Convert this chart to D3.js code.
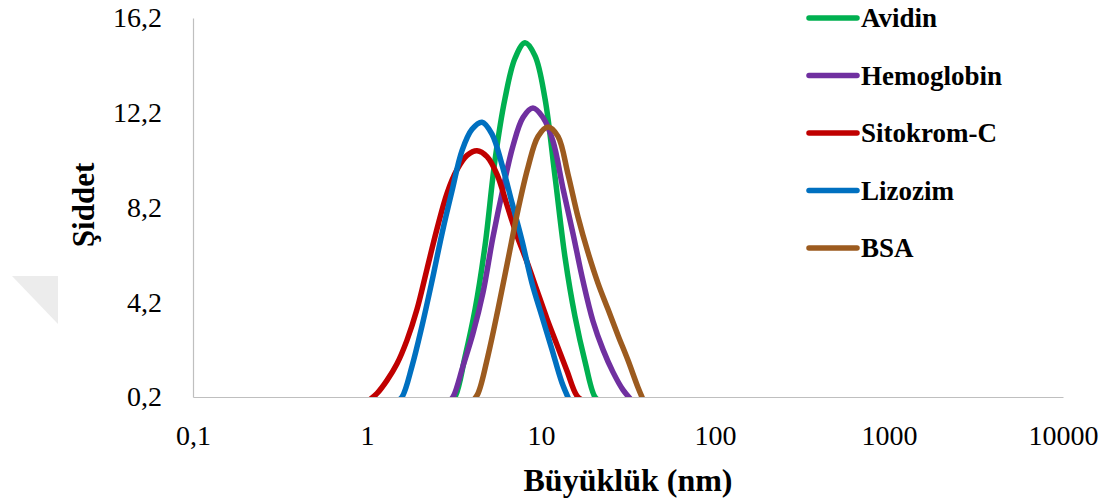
<!DOCTYPE html>
<html>
<head>
<meta charset="utf-8">
<script src="https://cdn.jsdelivr.net/npm/d3@7"></script>
<style>
  html, body { margin: 0; padding: 0; background: #ffffff; }
  svg { display: block; }
  text { font-family: "Liberation Serif", "Times New Roman", serif; fill: #000; }
</style>
</head>
<body>
<svg id="chart" width="1115" height="503"></svg>
<script>
// ---- data ----
const seriesNames = ["Avidin", "Hemoglobin", "Sitokrom-C", "Lizozim", "BSA"];
const seriesColors = ["#00b050", "#7030a0", "#c00000", "#0070c0", "#9c5b1f"];

const avidinSize = [2.96, 3.20, 3.66, 4.18, 4.77, 5.44, 6.21, 7.09, 8.09, 9.24, 10.54, 12.04, 13.74, 15.68, 17.90, 20.43, 22.13];
const avidinInt  = [0, 0.2, 1.9, 3.9, 6.6, 10.2, 12.8, 14.5, 15.15, 14.6, 12.8, 9.5, 6.1, 3.6, 1.7, 0.2, 0];

const hemoSize = [2.92, 3.12, 3.56, 4.07, 4.64, 5.28, 6.05, 6.90, 7.88, 8.99, 10.27, 11.72, 13.38, 15.27, 17.43, 19.90, 22.72, 25.93, 29.60, 33.79];
const hemoInt  = [0, 0.2, 1.5, 2.9, 4.6, 6.9, 9.0, 10.8, 12.0, 12.4, 12.0, 11.0, 9.0, 7.1, 5.1, 3.4, 2.2, 1.25, 0.5, 0];

const sitoSize = [1.000, 1.142, 1.303, 1.487, 1.698, 1.938, 2.212, 2.526, 2.883, 3.291, 3.757, 4.288, 4.895, 5.587, 6.378, 7.280, 8.311, 9.485, 10.83, 12.36, 14.11, 16.10, 17.90];
const sitoInt  = [0, 0.35, 0.9, 1.6, 2.6, 3.9, 5.6, 7.3, 8.8, 9.8, 10.4, 10.6, 10.35, 9.6, 8.3, 7.0, 5.9, 4.7, 3.5, 2.4, 1.3, 0.25, 0];

const lizoSize = [1.468, 1.589, 1.814, 2.071, 2.364, 2.698, 3.080, 3.516, 4.012, 4.580, 5.229, 5.969, 6.813, 7.778, 8.878, 10.13, 11.57, 13.20, 14.68];
const lizoInt  = [0, 0.2, 1.5, 3.2, 5.1, 7.1, 8.9, 10.6, 11.5, 11.8, 11.3, 10.0, 8.4, 6.8, 5.0, 3.6, 2.2, 0.8, 0];

const bsaSize = [4.012, 4.345, 4.960, 5.660, 6.462, 7.376, 8.421, 9.612, 10.97, 12.52, 14.30, 16.32, 18.63, 21.27, 24.28, 27.71, 31.62, 36.10, 39.08];
const bsaInt  = [0, 0.35, 1.95, 3.9, 6.0, 8.1, 9.9, 11.2, 11.6, 11.2, 9.6, 7.8, 6.3, 5.0, 3.9, 2.8, 1.75, 0.6, 0];

const xTickValues = [0.1, 1, 10, 100, 1000, 10000];
const xTickLabels = ["0,1", "1", "10", "100", "1000", "10000"];
const yTickValues = [0.2, 4.2, 8.2, 12.2, 16.2];
const yTickLabels = ["0,2", "4,2", "8,2", "12,2", "16,2"];
const xTitle = "Büyüklük (nm)";
const yTitle = "Şiddet";

// ---- build ----
const sizes = [avidinSize, hemoSize, sitoSize, lizoSize, bsaSize];
const ints  = [avidinInt, hemoInt, sitoInt, lizoInt, bsaInt];
const series = seriesNames.map((name, i) => ({
  name, color: seriesColors[i],
  pts: sizes[i].map((s, j) => ({ x: s, y: ints[i][j] }))
}));

const svg = d3.select("#chart");
const pL = 193, pR = 1063, pT = 18, pB = 397;

const x = d3.scaleLog().domain([0.1, 10000]).range([pL, pR]);
const y = d3.scaleLinear().domain([0.2, 16.2]).range([pB, pT]);

// faint watermark triangle from the reference page
svg.append("path")
  .attr("d", "M12,276 L58,276 L58,324 Z")
  .attr("fill", "#ececec");

// axes
const xAxis = d3.axisBottom(x).tickValues(xTickValues)
  .tickFormat((d, i) => xTickLabels[i]).tickSize(0).tickPadding(28);
const gx = svg.append("g").attr("transform", `translate(0,${pB})`).call(xAxis);
gx.select(".domain").attr("stroke", "#bfbfbf").attr("stroke-width", 1.2);
gx.selectAll("text").style("font-size", "28px").style("font-family", '"Liberation Serif", serif');

const yAxis = d3.axisLeft(y).tickValues(yTickValues)
  .tickFormat((d, i) => yTickLabels[i]).tickSize(0).tickPadding(31);
const gy = svg.append("g").attr("transform", `translate(${pL},0)`).call(yAxis);
gy.select(".domain").attr("stroke", "#bfbfbf").attr("stroke-width", 1.2);
gy.selectAll("text").style("font-size", "28px").style("font-family", '"Liberation Serif", serif');

// clip to plot area
svg.append("defs").append("clipPath").attr("id", "plotclip")
  .append("rect").attr("x", pL).attr("y", pT - 10)
  .attr("width", pR - pL).attr("height", pB - pT + 10);

const line = d3.line()
  .x(d => x(d.x)).y(d => y(d.y))
  .curve(d3.curveCatmullRom.alpha(0.5));

svg.append("g").attr("clip-path", "url(#plotclip)")
  .selectAll("path").data(series).join("path")
  .attr("d", d => line(d.pts))
  .attr("fill", "none")
  .attr("stroke", d => d.color)
  .attr("stroke-width", 5.5)
  .attr("stroke-linejoin", "round")
  .attr("stroke-linecap", "round");

// titles
svg.append("text")
  .attr("x", 628).attr("y", 491)
  .attr("text-anchor", "middle")
  .style("font-size", "32px").style("font-weight", "bold")
  .text(xTitle);

svg.append("text")
  .attr("transform", "translate(94,205) rotate(-90)")
  .attr("text-anchor", "middle")
  .style("font-size", "31px").style("font-weight", "bold")
  .text(yTitle);

// legend
const lg = svg.append("g");
series.forEach((s, i) => {
  const cy = 18 + i * 57.5;
  lg.append("line")
    .attr("x1", 809).attr("x2", 857).attr("y1", cy).attr("y2", cy)
    .attr("stroke", s.color).attr("stroke-width", 5.5).attr("stroke-linecap", "round");
  lg.append("text")
    .attr("x", 861).attr("y", cy).attr("dy", "0.34em")
    .style("font-size", "27px").style("font-weight", "bold")
    .text(s.name);
});
</script>
</body>
</html>
